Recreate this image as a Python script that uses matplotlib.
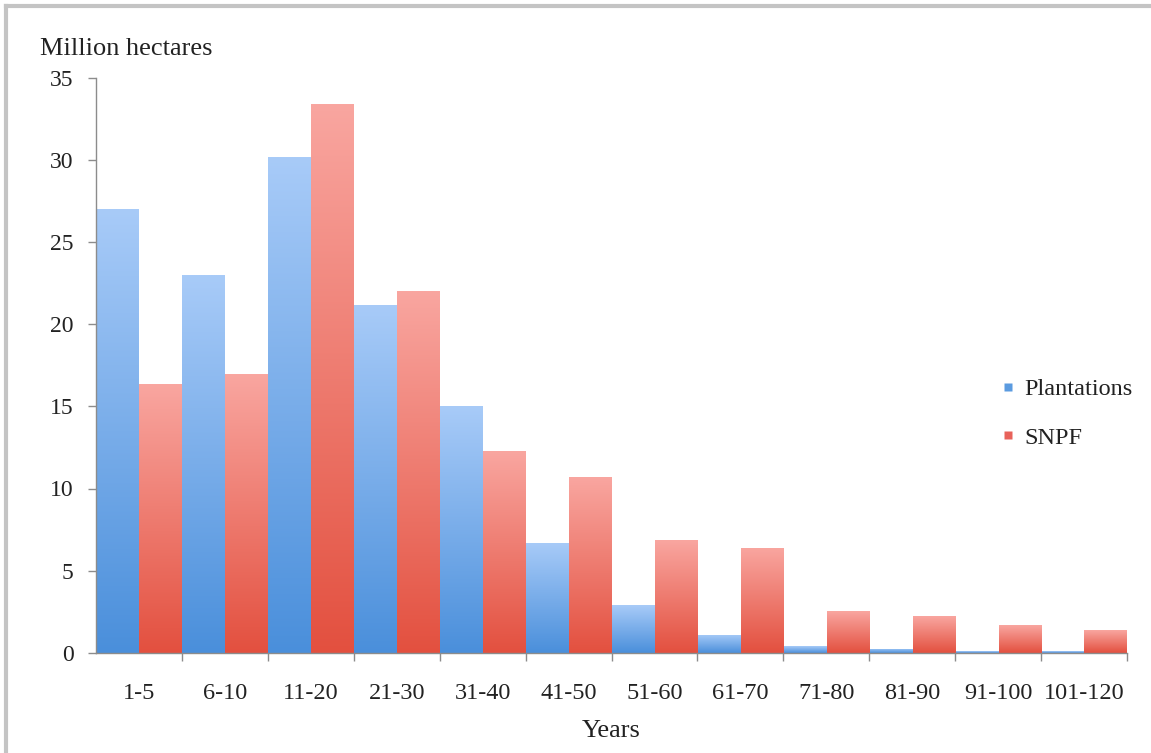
import numpy as np
import matplotlib
matplotlib.use('Agg')
import matplotlib.pyplot as plt
from matplotlib.colors import LinearSegmentedColormap
from matplotlib.lines import Line2D

# Age classes and areas (million hectares)
age_classes = ['1-5', '6-10', '11-20', '21-30', '31-40', '41-50', '51-60',
               '61-70', '71-80', '81-90', '91-100', '101-120']
plantations = [27.0, 23.0, 30.2, 21.2, 15.0, 6.7, 2.9, 1.1, 0.4, 0.25, 0.1, 0.1]
snpf = [16.35, 16.95, 33.4, 22.0, 12.3, 10.7, 6.85, 6.4, 2.55, 2.25, 1.7, 1.4]

plt.rcParams['font.family'] = ['Liberation Serif', 'DejaVu Serif']

W, H = 1151, 753
fig = plt.figure(figsize=(W / 100, H / 100), dpi=100)
ax = fig.add_axes([96 / W, 1 - 652.7 / H, (1127 - 96) / W, (652.7 - 78) / H])

blue_cmap = LinearSegmentedColormap.from_list('b', ['#4a8fdb', '#a8cbf8'])
red_cmap = LinearSegmentedColormap.from_list('r', ['#e3503f', '#f9a6a0'])

x = np.arange(len(age_classes))
width = 0.49
grad = np.linspace(0, 1, 256).reshape(-1, 1)


def gradient_bars(xpos, values, cmap):
    bars = ax.bar(xpos, values, width=width, color='none', edgecolor='none')
    for b in bars:
        x0, y0 = b.get_x(), b.get_y()
        im = ax.imshow(grad, cmap=cmap, origin='lower', aspect='auto',
                       extent=[x0, x0 + b.get_width(), y0, y0 + b.get_height()],
                       interpolation='bilinear', zorder=2)
        im.set_clip_path(b)


gradient_bars(x - 0.25, plantations, blue_cmap)
gradient_bars(x + 0.25, snpf, red_cmap)

ax.set_xlim(-0.5, len(age_classes) - 0.5)
ax.set_ylim(0, 35)
ax.set_yticks(range(0, 36, 5))

# category labels at centres, tick marks at boundaries
ax.set_xticks(x)
ax.set_xticklabels(age_classes, fontsize=17.5, color='#222222')
ax.set_xticks(np.arange(0.5, len(age_classes) - 0.4, 1), minor=True)
ax.tick_params(axis='x', which='major', length=0, pad=22)
ax.tick_params(axis='x', which='minor', length=6, color='#8c8c8c', width=1)
ax.tick_params(axis='y', length=6, color='#8c8c8c', width=1, pad=10,
               labelsize=17, labelcolor='#222222')

for s in ['top', 'right']:
    ax.spines[s].set_visible(False)
for s in ['left', 'bottom']:
    ax.spines[s].set_color('#8c8c8c')
    ax.spines[s].set_linewidth(1)
    ax.spines[s].set_zorder(3)

ax.set_xlabel('Years', fontsize=19, color='#222222', labelpad=11)
fig.text(40 / W, 1 - 55 / H, 'Million hectares', fontsize=19,
         color='#222222', ha='left', va='baseline')

handles = [Line2D([], [], ls='none', marker='s', markersize=6,
                  markerfacecolor='#5b9be0', markeredgecolor='none'),
           Line2D([], [], ls='none', marker='s', markersize=6,
                  markerfacecolor='#e8625a', markeredgecolor='none')]
leg = fig.legend(handles, ['Plantations', 'SNPF'], loc='upper left',
                 bbox_to_anchor=(1001 / W, 1 - 378 / H), frameon=False,
                 fontsize=17.5, handlelength=0.6, handletextpad=0.35,
                 labelspacing=1.1, borderpad=0, borderaxespad=0)
for t in leg.get_texts():
    t.set_color('#222222')

# frame lines along the top and left edge of the picture
fig.add_artist(Line2D([6 / W, 1], [1 - 6 / H, 1 - 6 / H], color='#c4c4c4',
                      lw=3, transform=fig.transFigure))
fig.add_artist(Line2D([6 / W, 6 / W], [0, 1 - 6 / H], color='#c4c4c4',
                      lw=3, transform=fig.transFigure))

fig.savefig('out.png', dpi=100)
